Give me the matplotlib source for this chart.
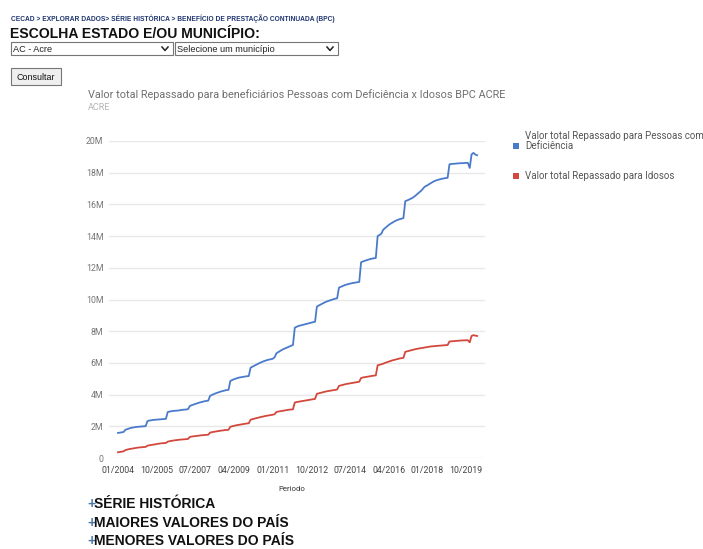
import pandas as pd
import matplotlib.pyplot as plt
from matplotlib.patches import Rectangle
from matplotlib.lines import Line2D

# monthly values (millions of R$), 01/2004 .. 04/2020
pcd_values = [
    1.58, 1.60, 1.62, 1.64, 1.78, 1.82, 1.86, 1.90, 1.92, 1.94, 1.96, 1.97,
    1.98, 1.99, 2.00, 2.01, 2.33, 2.36, 2.38, 2.40, 2.41, 2.42, 2.43, 2.44,
    2.45, 2.46, 2.47, 2.90, 2.93, 2.95, 2.97, 2.98, 2.99, 3.00, 3.02, 3.04,
    3.05, 3.06, 3.08, 3.28, 3.33, 3.37, 3.41, 3.45, 3.49, 3.52, 3.55, 3.58,
    3.60, 3.62, 3.92, 3.98, 4.03, 4.08, 4.12, 4.16, 4.20, 4.23, 4.26, 4.29,
    4.30, 4.86, 4.92, 4.97, 5.01, 5.05, 5.08, 5.10, 5.12, 5.14, 5.16, 5.17,
    5.70, 5.76, 5.82, 5.88, 5.94, 6.00, 6.05, 6.10, 6.14, 6.18, 6.21, 6.23,
    6.26, 6.35, 6.60, 6.68, 6.75, 6.82, 6.88, 6.93, 6.98, 7.03, 7.08, 7.13,
    8.22, 8.28, 8.33, 8.36, 8.39, 8.42, 8.45, 8.48, 8.51, 8.54, 8.57, 8.60,
    9.55, 9.62, 9.68, 9.74, 9.80, 9.86, 9.90, 9.94, 9.98, 10.02, 10.05, 10.08,
    10.75, 10.80, 10.85, 10.90, 10.94, 10.97, 11.00, 11.03, 11.05, 11.07, 11.09, 11.11,
    12.35, 12.40, 12.44, 12.48, 12.52, 12.55, 12.58, 12.60, 12.62, 14.00, 14.07, 14.15,
    14.40, 14.50, 14.60, 14.70, 14.78, 14.85, 14.92, 14.98, 15.03, 15.07, 15.10, 15.14,
    16.20, 16.25, 16.30, 16.36, 16.42, 16.50, 16.60, 16.70, 16.80, 16.90, 17.05, 17.15,
    17.20, 17.28, 17.35, 17.42, 17.48, 17.52, 17.56, 17.59, 17.62, 17.64, 17.66, 17.68,
    18.53, 18.55, 18.56, 18.57, 18.58, 18.59, 18.60, 18.60, 18.61, 18.62, 18.62, 18.30,
    19.15, 19.25, 19.15, 19.10,
]
idosos_values = [
    0.36, 0.38, 0.40, 0.42, 0.50, 0.53, 0.56, 0.58, 0.60, 0.62, 0.64, 0.66,
    0.67, 0.68, 0.69, 0.70, 0.78, 0.80, 0.82, 0.84, 0.86, 0.88, 0.90, 0.92,
    0.93, 0.94, 0.95, 1.03, 1.06, 1.08, 1.10, 1.12, 1.13, 1.15, 1.16, 1.17,
    1.18, 1.19, 1.20, 1.33, 1.35, 1.37, 1.38, 1.40, 1.41, 1.43, 1.44, 1.45,
    1.46, 1.47, 1.60, 1.63, 1.65, 1.67, 1.69, 1.71, 1.73, 1.74, 1.76, 1.77,
    1.78, 1.97, 2.00, 2.03, 2.06, 2.08, 2.10, 2.12, 2.14, 2.16, 2.18, 2.19,
    2.42, 2.45, 2.48, 2.51, 2.54, 2.57, 2.60, 2.62, 2.65, 2.67, 2.69, 2.71,
    2.73, 2.76, 2.90, 2.93, 2.95, 2.97, 2.99, 3.01, 3.03, 3.05, 3.06, 3.07,
    3.50, 3.53, 3.55, 3.57, 3.59, 3.61, 3.63, 3.65, 3.67, 3.69, 3.71, 3.73,
    4.05, 4.08, 4.11, 4.14, 4.17, 4.20, 4.22, 4.24, 4.26, 4.28, 4.30, 4.32,
    4.55, 4.58, 4.61, 4.64, 4.67, 4.69, 4.71, 4.73, 4.75, 4.77, 4.79, 4.81,
    5.05, 5.08, 5.10, 5.12, 5.14, 5.16, 5.18, 5.20, 5.21, 5.85, 5.88, 5.91,
    5.95, 6.00, 6.04, 6.08, 6.12, 6.16, 6.19, 6.22, 6.25, 6.28, 6.30, 6.32,
    6.70, 6.73, 6.76, 6.79, 6.82, 6.85, 6.88, 6.90, 6.92, 6.94, 6.96, 6.98,
    7.00, 7.02, 7.04, 7.05, 7.06, 7.07, 7.08, 7.09, 7.10, 7.11, 7.12, 7.13,
    7.35, 7.36, 7.37, 7.38, 7.39, 7.40, 7.41, 7.42, 7.42, 7.43, 7.43, 7.30,
    7.70, 7.75, 7.72, 7.70,
]
periods = pd.date_range("2004-01-01", periods=len(pcd_values), freq="MS")
period_labels = [d.strftime("%m/%Y") for d in periods]
y_ticks = [0, 2, 4, 6, 8, 10, 12, 14, 16, 18, 20]

series_names = ["Valor total Repassado para Pessoas com\nDeficiência",
                "Valor total Repassado para Idosos"]
colors = ["#4a7bcb", "#d2483c"]

W, H = 703, 549


def fx(x):
    return x / W


def fy(y):
    return 1 - y / H


fig = plt.figure(figsize=(W / 100, H / 100), dpi=100)
fig.patch.set_facecolor("white")

page_font = "Liberation Sans"
chart_font = "Roboto"

# page header
fig.text(fx(11), fy(21), "CECAD > EXPLORAR DADOS> SÉRIE HISTÓRICA > BENEFÍCIO DE PRESTAÇÃO CONTINUADA (BPC)",
         fontsize=4.8, fontweight="bold", color="#1f3570", family=page_font, va="baseline")
fig.text(fx(10), fy(38), "ESCOLHA ESTADO E/OU MUNICÍPIO:", fontsize=10.1, fontweight="bold",
         color="#111111", family=page_font, va="baseline")

# dropdowns
for x0, x1, label in [(11, 173, "AC - Acre"), (175, 338, "Selecione um município")]:
    fig.add_artist(Rectangle((fx(x0), fy(55)), fx(x1 - x0), (55 - 42) / H,
                             transform=fig.transFigure, facecolor="white",
                             edgecolor="#767676", lw=0.8))
    fig.text(fx(x0 + 2), fy(52.5), label, fontsize=6.6, color="#222222",
             family=page_font, va="baseline")
    cx = x1 - 8
    fig.add_artist(Line2D([fx(cx - 3), fx(cx), fx(cx + 3)], [fy(47), fy(50.5), fy(47)],
                          transform=fig.transFigure, color="#222222", lw=1.1))

# button
fig.add_artist(Rectangle((fx(11), fy(85)), fx(50), (85 - 68.5) / H,
                         transform=fig.transFigure, facecolor="#efefef",
                         edgecolor="#767676", lw=0.8))
fig.text(fx(36), fy(80.5), "Consultar", fontsize=6.4, color="#111111",
         family=page_font, va="baseline", ha="center")

# chart titles
fig.text(fx(88), fy(98.3), "Valor total Repassado para beneficiários Pessoas com Deficiência x Idosos BPC ACRE",
         fontsize=7.8, color="#6f6f6f", family=chart_font, va="baseline")
fig.text(fx(88), fy(110.5), "ACRE", fontsize=6.6, color="#b5b5b5", family=chart_font, va="baseline")

# plot area
ax = fig.add_axes([fx(109), fy(458), fx(485 - 109), (458 - 141) / H])
x = list(range(len(periods)))
ax.plot(x, pcd_values, color=colors[0], lw=1.3, solid_joinstyle="round")
ax.plot(x, idosos_values, color=colors[1], lw=1.3, solid_joinstyle="round")

ax.set_ylim(0, 20)
ax.set_xlim(-4.9, len(periods) - 1 + 4.3)
ax.set_yticks(y_ticks)
ax.set_yticklabels(["0" if v == 0 else f"{v}M" for v in y_ticks])
xt = list(range(0, len(periods), 21))
ax.set_xticks(xt)
ax.set_xticklabels([period_labels[i] for i in xt])
ax.tick_params(axis="both", length=0, labelsize=6.3)
ax.tick_params(axis="y", pad=4, labelcolor="#757575")
ax.tick_params(axis="x", pad=6, labelcolor="#444444")
for lbl in ax.get_xticklabels() + ax.get_yticklabels():
    lbl.set_family(chart_font)
ax.grid(axis="y", color="#e8e8e8", lw=1)
ax.set_axisbelow(True)
for s in ax.spines.values():
    s.set_visible(False)

fig.text(fx(291.5), fy(491), "Periodo", fontsize=5.6, color="#333333",
         family=chart_font, va="baseline", ha="center")

# legend
for col, yc in zip(colors, [146, 176]):
    fig.add_artist(Rectangle((fx(513), fy(yc + 3)), fx(6), 6 / H,
                             transform=fig.transFigure, facecolor=col, edgecolor="none"))
legend_lines = series_names[0].split("\n")
fig.text(fx(525), fy(139), legend_lines[0], fontsize=7.0,
         color="#555555", family=chart_font, va="baseline")
fig.text(fx(525), fy(149), legend_lines[1], fontsize=7.0,
         color="#555555", family=chart_font, va="baseline")
fig.text(fx(525), fy(179), series_names[1], fontsize=7.0,
         color="#555555", family=chart_font, va="baseline")

# bottom links
for yb, label in [(508, "SÉRIE HISTÓRICA"), (527, "MAIORES VALORES DO PAÍS"),
                  (545, "MENORES VALORES DO PAÍS")]:
    fig.text(fx(87), fy(yb), "+", fontsize=10, fontweight="bold", color="#4a77a8",
             family=page_font, va="baseline")
    fig.text(fx(94), fy(yb), label, fontsize=10, fontweight="bold", color="#111111",
             family=page_font, va="baseline")

plt.savefig("out.png", dpi=100)
